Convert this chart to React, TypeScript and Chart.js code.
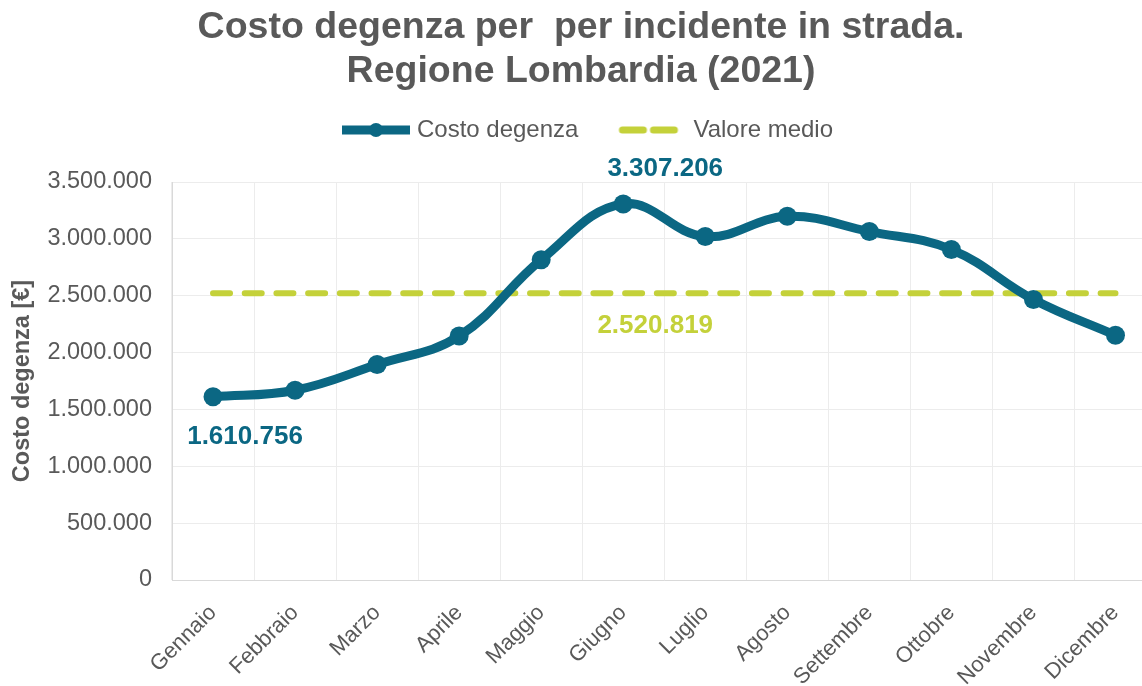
import React, { useEffect, useRef } from 'react';
import { Chart, registerables } from 'chart.js';

Chart.register(...registerables);

const months = ['Gennaio', 'Febbraio', 'Marzo', 'Aprile', 'Maggio', 'Giugno', 'Luglio', 'Agosto', 'Settembre', 'Ottobre', 'Novembre', 'Dicembre'];
const costoDegenza = [1610756, 1669000, 1895000, 2145000, 2816000, 3307206, 3020000, 3198000, 3064000, 2906000, 2467000, 2152000];
const valoreMedio = 2520819;
const valoreMedioSeries = months.map(() => valoreMedio);
const titleLines = ['Costo degenza per  per incidente in strada.', 'Regione Lombardia (2021)'];
const seriesNames = ['Costo degenza', 'Valore medio'];
const yAxisTitle = 'Costo degenza [€]';
const yMax = 3500000;
const yStep = 500000;

const BLUE = '#0b6783';
const GREEN = '#c4d13a';
const GRAY = '#595959';
const FONT = "'Liberation Sans', Arial, sans-serif";

const fmt = (n: number) => Math.round(n).toString().replace(/\B(?=(\d{3})+(?!\d))/g, '.');

function legendImage(kind: 'solid' | 'dash'): HTMLCanvasElement {
  const c = document.createElement('canvas');
  c.width = 96;
  c.height = 22;
  const ctx = c.getContext('2d')!;
  if (kind === 'solid') {
    ctx.strokeStyle = BLUE;
    ctx.lineWidth = 9;
    ctx.beginPath();
    ctx.moveTo(23, 11);
    ctx.lineTo(91, 11);
    ctx.stroke();
    ctx.fillStyle = BLUE;
    ctx.beginPath();
    ctx.arc(57, 11, 7, 0, Math.PI * 2);
    ctx.fill();
  } else {
    ctx.strokeStyle = GREEN;
    ctx.lineWidth = 7;
    ctx.lineCap = 'round';
    ctx.setLineDash([21, 10]);
    ctx.beginPath();
    ctx.moveTo(27, 11);
    ctx.lineTo(89, 11);
    ctx.stroke();
  }
  return c;
}

const labelPlugin = {
  id: 'valueLabels',
  afterDatasetsDraw(chart: any) {
    const ctx = chart.ctx;
    const m0 = chart.getDatasetMeta(0);
    const m1 = chart.getDatasetMeta(1);
    ctx.save();
    ctx.font = `bold 26px ${FONT}`;
    ctx.textAlign = 'center';
    ctx.textBaseline = 'middle';
    const p0 = m0.data[0];
    ctx.fillStyle = BLUE;
    ctx.fillText(fmt(costoDegenza[0]), p0.x + 32, p0.y + 40);
    const p5 = m0.data[5];
    ctx.fillText(fmt(costoDegenza[5]), p5.x + 42, p5.y - 35);
    const q5 = m1.data[5];
    ctx.fillStyle = GREEN;
    ctx.fillText(fmt(valoreMedio), q5.x + 32, q5.y + 32);
    ctx.restore();
  },
};

export default function App() {
  const ref = useRef<HTMLCanvasElement>(null);
  useEffect(() => {
    const canvas = ref.current!;
    const imgs = [legendImage('solid'), legendImage('dash')];
    const chart = new Chart(canvas, {
      type: 'line',
      data: {
        labels: months,
        datasets: [
          {
            label: seriesNames[0],
            data: costoDegenza,
            borderColor: BLUE,
            backgroundColor: BLUE,
            borderWidth: 9,
            tension: 0.4,
            pointRadius: 9.5,
            pointBorderWidth: 0,
            pointBackgroundColor: BLUE,
            pointStyle: 'circle',
          },
          {
            label: seriesNames[1],
            data: valoreMedioSeries,
            borderColor: GREEN,
            backgroundColor: GREEN,
            borderWidth: 6,
            borderDash: [17, 14.7],
            borderCapStyle: 'round',
            pointRadius: 0,
            tension: 0,
          },
        ],
      },
      options: {
        responsive: false,
        animation: false,
        layout: { padding: { left: 0, right: 4, top: 0, bottom: 0 } },
        plugins: {
          title: {
            display: true,
            text: titleLines,
            color: GRAY,
            font: { family: FONT, size: 37.5, weight: 'bold', lineHeight: 1.16 },
            padding: { top: 6.25, bottom: -2.25 },
          },
          subtitle: {
            display: true,
            text: '',
            weight: 500,
            font: { family: FONT, size: 10, lineHeight: 1 },
            padding: { top: 0, bottom: 20 },
          },
          legend: {
            display: true,
            position: 'top',
            labels: {
              color: GRAY,
              font: { family: FONT, size: 24 },
              usePointStyle: true,
              pointStyleWidth: 76,
              padding: 27,
              generateLabels: () =>
                seriesNames.map((name, i) => ({
                  text: name,
                  pointStyle: imgs[i],
                  fillStyle: i === 0 ? BLUE : GREEN,
                  strokeStyle: i === 0 ? BLUE : GREEN,
                  lineWidth: 0,
                  hidden: false,
                  datasetIndex: i,
                  fontColor: GRAY,
                })),
            },
          },
          tooltip: { enabled: false },
        },
        scales: {
          x: {
            offset: true,
            grid: { color: '#ececec', offset: true, drawTicks: false },
            border: { color: '#d9d9d9' },
            ticks: {
              color: GRAY,
              font: { family: FONT, size: 22 },
              maxRotation: 45,
              minRotation: 45,
              padding: 20,
            },
            afterFit: (scale: any) => {
              scale.height = 106;
            },
          },
          y: {
            min: 0,
            max: yMax,
            grid: { color: '#ececec', drawTicks: false },
            border: { color: '#d9d9d9' },
            ticks: {
              stepSize: yStep,
              color: GRAY,
              font: { family: FONT, size: 23.5 },
              padding: 20,
              callback: (v: any) => fmt(Number(v)),
            },
            title: {
              display: true,
              text: yAxisTitle,
              color: GRAY,
              font: { family: FONT, size: 23.5, weight: 'bold' },
              padding: { top: 8.9, bottom: 0 },
            },
            afterFit: (scale: any) => {
              scale.width = 172;
            },
          },
        },
      },
      plugins: [labelPlugin],
    });
    return () => chart.destroy();
  }, []);
  return (
    <div style={{ position: 'fixed', left: 0, top: 0, width: 1142, height: 686, overflow: 'hidden', background: '#fff' }}>
      <canvas ref={ref} width={1166} height={686} style={{ display: 'block' }} />
    </div>
  );
}
